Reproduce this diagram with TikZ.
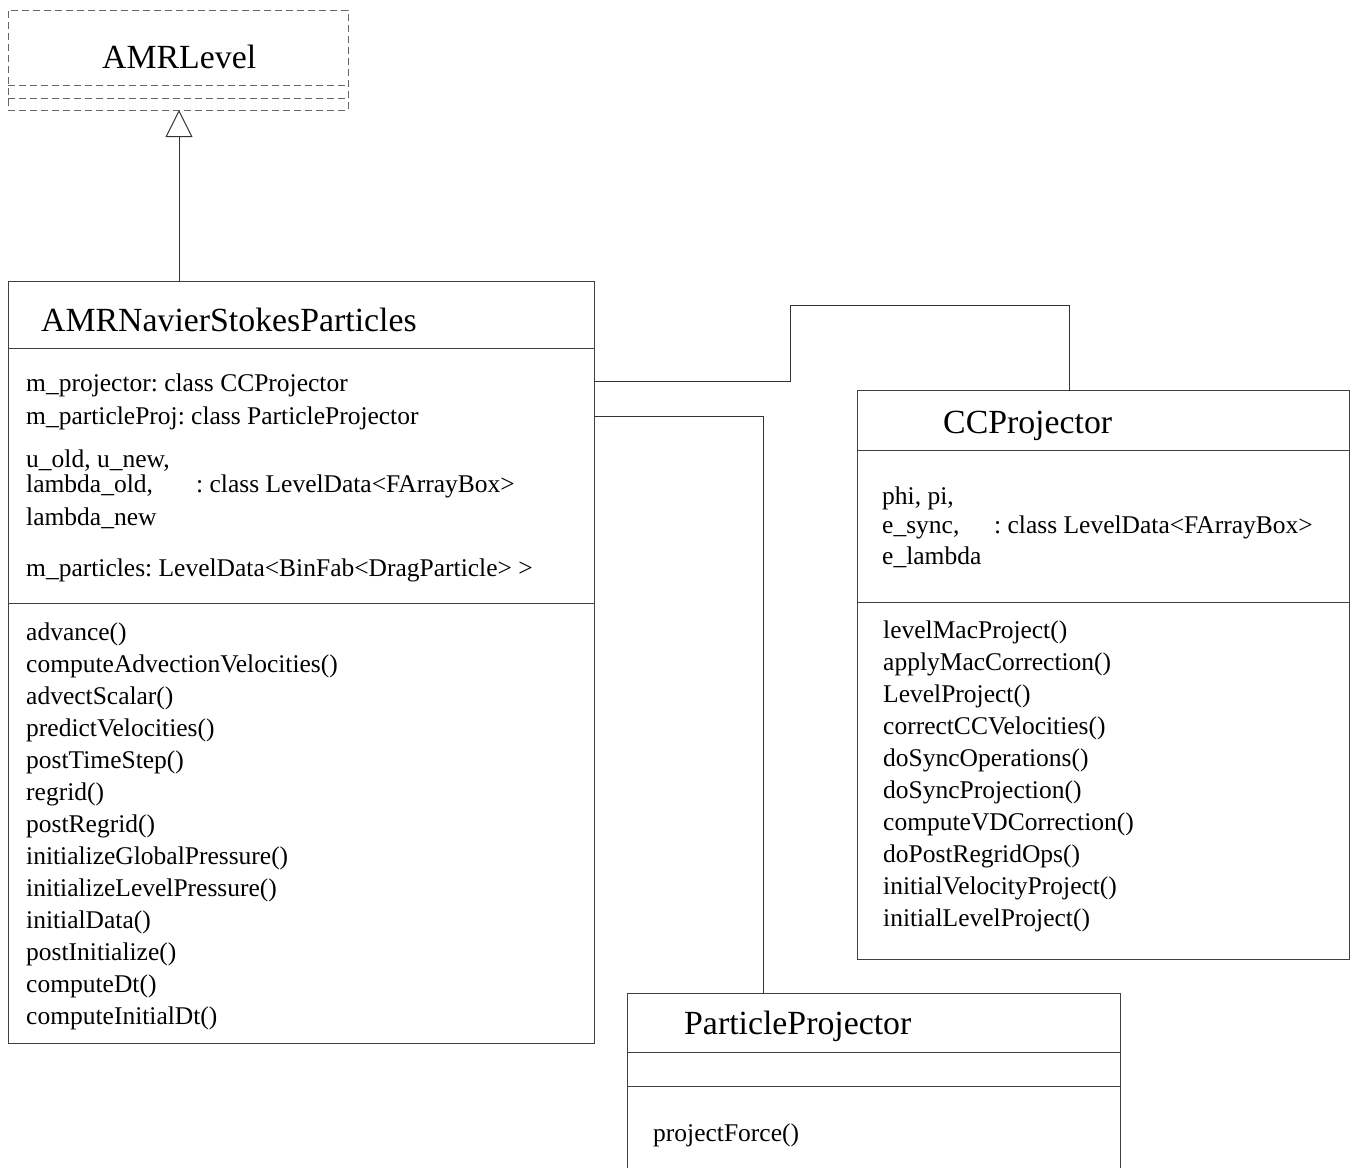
\documentclass[tikz,border=0pt]{standalone}
\usepackage{fontspec}
\setmainfont{Liberation Serif}
\usetikzlibrary{arrows.meta}
\frenchspacing
\begin{document}
\begin{tikzpicture}[x=1pt,y=-1pt,
  boxline/.style={draw=black!75, line width=1pt},
  classbox/.style={boxline, anchor=north west, inner sep=0pt, outer sep=0pt},
  dashbox/.style={draw=black!60, line width=1pt, dash pattern=on 7pt off 4pt, anchor=north west, inner sep=0pt, outer sep=0pt},
  sepline/.style={draw=black!75, line width=1pt},
  dashsep/.style={draw=black!60, line width=1pt, dash pattern=on 7pt off 4pt},
  body/.style={anchor=base west, inner sep=0pt, font=\fontsize{25.5}{30}\selectfont},
  title/.style={anchor=base west, inner sep=0pt, font=\fontsize{33.8}{40}\selectfont},
  conn/.style={draw=black!80, line width=1pt},
]
\useasboundingbox (0,0) rectangle (1353,1168);
\fill[white] (0,0) rectangle (1353,1168);
\clip (0,0) rectangle (1353,1168);

% AMRLevel
\node[dashbox, minimum width=340pt, minimum height=100pt] (amr) at (8,10) {};
\draw[dashsep] (8,85) -- (348,85);
\draw[dashsep] (8,98) -- (348,98);
\node[title] (amrT) at (102,68) {AMRLevel};

% AMRNavierStokesParticles
\node[classbox, minimum width=586pt, minimum height=762pt] (nsp) at (8,281) {};
\draw[sepline] (8,348) -- (594,348);
\draw[sepline] (8,603) -- (594,603);
\node[title] (nspT) at (41,331) {AMRNavierStokesParticles};
\node[body] (a1) at (26,391) {m\_projector: class CCProjector};
\node[body] (a2) at (26,424) {m\_particleProj: class ParticleProjector};
\node[body] (a3) at (26,467) {u\_old, u\_new,};
\node[body] (a4) at (26,492) {lambda\_old,};
\node[body] (a4b) at (196,492) {: class LevelData<FArrayBox>};
\node[body] (a5) at (26,525) {lambda\_new};
\node[body] (a6) at (26,576) {m\_particles: LevelData<BinFab<DragParticle> >};
\foreach \t [count=\i from 0] in {advance(),computeAdvectionVelocities(),advectScalar(),predictVelocities(),postTimeStep(),regrid(),postRegrid(),initializeGlobalPressure(),initializeLevelPressure(),initialData(),postInitialize(),computeDt(),computeInitialDt()}
  \node[body] (m\i) at (26,640+32*\i) {\t};

% CCProjector
\node[classbox, minimum width=492pt, minimum height=569pt] (cc) at (857,390) {};
\draw[sepline] (857,450) -- (1349,450);
\draw[sepline] (857,602) -- (1349,602);
\node[title] (ccT) at (943,433) {CCProjector};
\node[body] (c1) at (882,504) {phi, pi,};
\node[body] (c2) at (882,533.5) {e\_sync,};
\node[body] (c2b) at (994,533.5) {: class LevelData<FArrayBox>};
\node[body] (c3) at (882,564) {e\_lambda};
\foreach \t [count=\i from 0] in {levelMacProject(),applyMacCorrection(),LevelProject(),correctCCVelocities(),doSyncOperations(),doSyncProjection(),computeVDCorrection(),doPostRegridOps(),initialVelocityProject(),initialLevelProject()}
  \node[body] (cm\i) at (883,638+32.1*\i) {\t};

% ParticleProjector
\node[classbox, minimum width=493pt, minimum height=200pt] (pp) at (627,993) {};
\draw[sepline] (627,1052) -- (1120,1052);
\draw[sepline] (627,1086) -- (1120,1086);
\node[title] (ppT) at (684,1034) {ParticleProjector};
\node[body] (p1) at (653,1141) {projectForce()};

% connectors
\draw[conn, -{Triangle[open, length=27pt, width=27pt]}] ([xshift=171pt]nsp.north west) -- ([xshift=171pt]amr.south west);
\draw[conn] ([yshift=-100pt]nsp.north east) -- (790,381) -- (790,305) -- (1069,305) -- ([xshift=212pt]cc.north west);
\draw[conn] ([yshift=-135pt]nsp.north east) -- (763,416) -- ([xshift=136pt]pp.north west);
\end{tikzpicture}
\end{document}
